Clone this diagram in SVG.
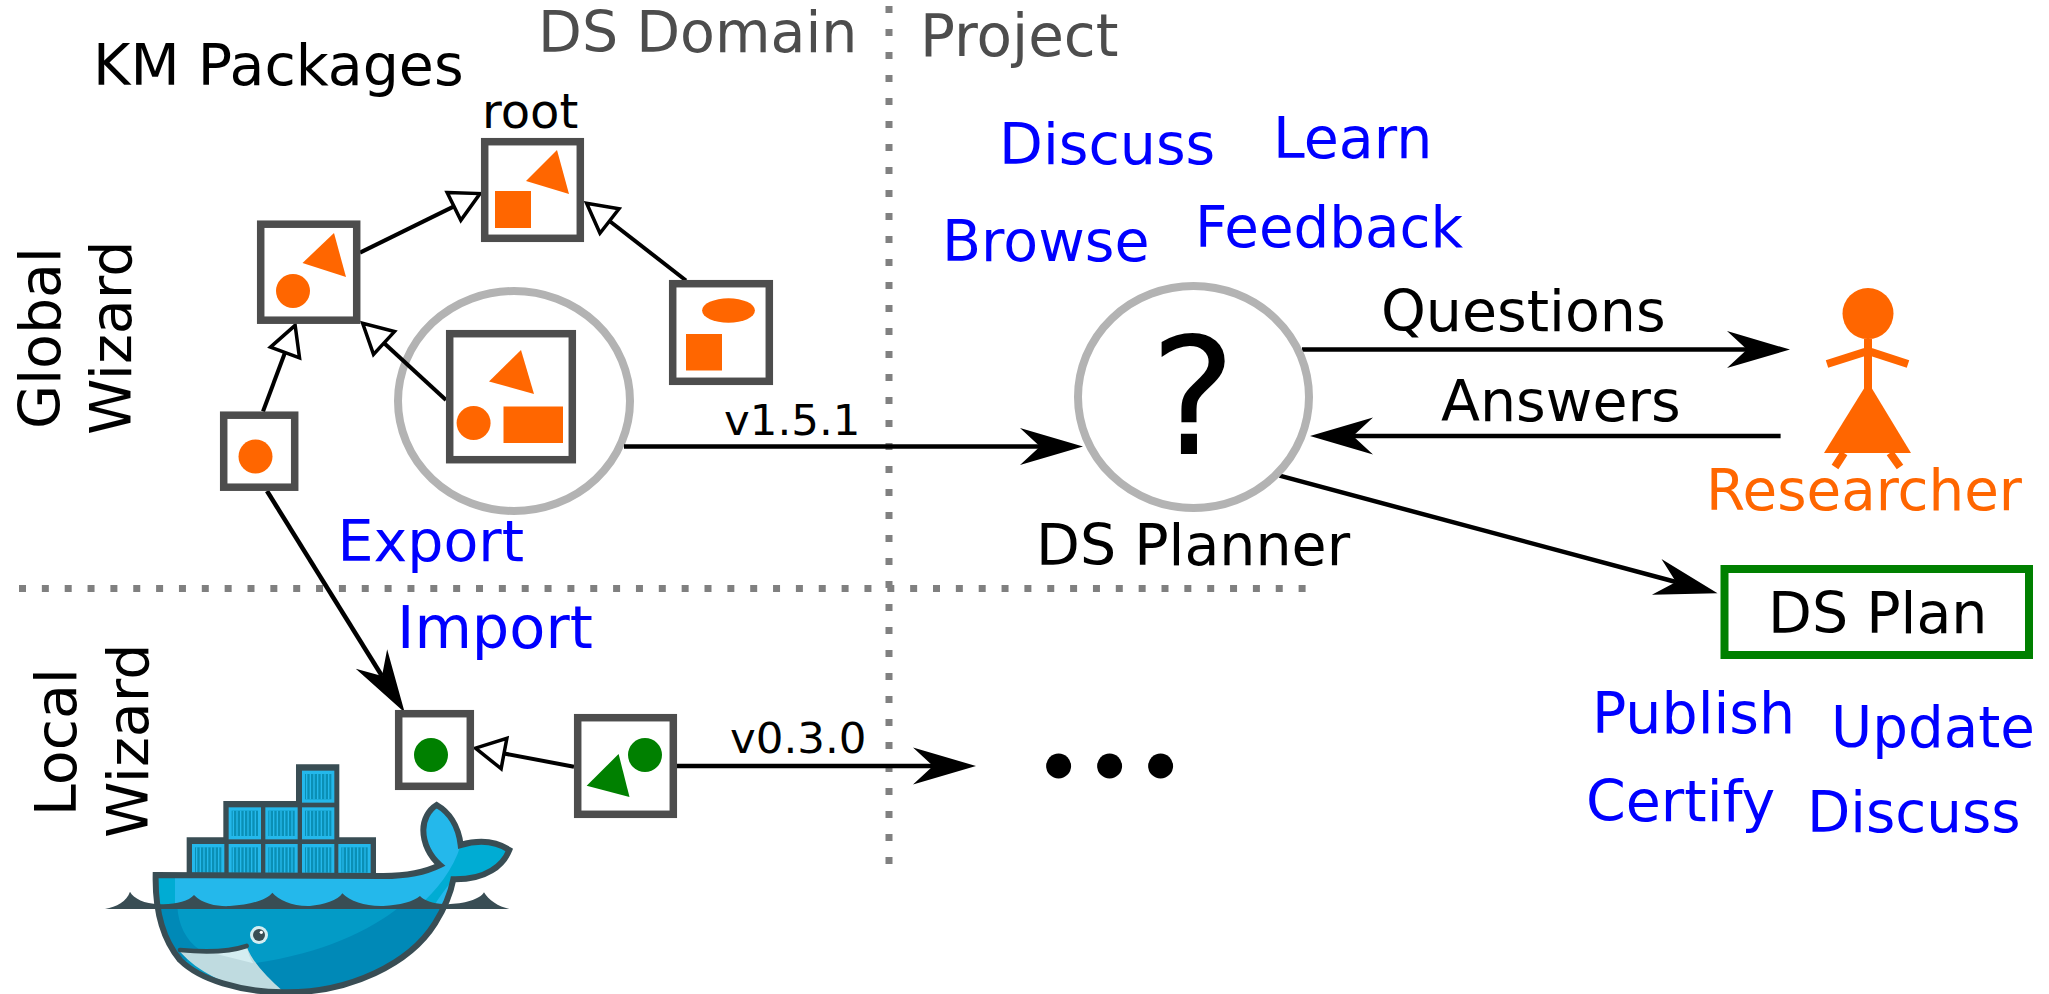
<svg xmlns="http://www.w3.org/2000/svg" xmlns:xlink="http://www.w3.org/1999/xlink" width="2049" height="994" viewBox="0 0 2049 994">
<style>
text{font-family:"DejaVu Sans","Liberation Sans",sans-serif;font-size:57px;fill:#000}
.blue{fill:#0000ff}.gray{fill:#4d4d4d}.org{fill:#ff6600}.grn{fill:#008000}
.ver{font-size:43.5px}
.sm{font-size:56.3px}
.box{fill:#fff;stroke:#4d4d4d;stroke-width:7.5}
.ring{fill:none;stroke:#b3b3b3;stroke-width:8}
.dot{fill:none;stroke:#808080;stroke-width:7;stroke-dasharray:7 16}
.a{fill:none;stroke:#000;stroke-width:4.5}
.i{fill:none;stroke:#000;stroke-width:4}
.wd{fill:#394d54}
</style>
<defs>
<marker id="barb" markerUnits="userSpaceOnUse" viewBox="-25 -25 75 50" markerWidth="75" markerHeight="50" refX="0" refY="0" orient="auto"><path d="M43 0L-20 -18.5L0 0L-20 18.5Z" fill="#000"/></marker>
<marker id="open" markerUnits="userSpaceOnUse" viewBox="-5 -20 40 40" markerWidth="40" markerHeight="40" refX="0" refY="0" orient="auto"><path d="M0 -15.5L29 0L0 15.5Z" fill="#fff" stroke="#000" stroke-width="3.5"/></marker>
<g id="cell"><rect width="97" height="96" fill="#24b8eb"/><rect x="9" y="10" width="79" height="76" fill="#0a8fb5"/><path d="M14 10V86M25 10V86M36 10V86M47 10V86M58 10V86M69 10V86M80 10V86" stroke="#24b8eb" stroke-width="4" fill="none"/></g>
<clipPath id="wc"><path id="wb" d="M197 375L880 378C950 378 1010 365 1050 345C1020 320 1000 280 1000 240C1000 210 1015 180 1040 165C1075 185 1105 225 1112 285C1170 268 1220 275 1258 300C1240 345 1190 390 1090 388C1080 440 1060 480 1035 520C960 640 780 730 580 727C450 725 330 690 270 630C220 570 195 480 197 375Z"/></clipPath>
</defs>

<g id="dividers">
<path class="dot" d="M889 6V866"/>
<path class="dot" style="stroke-dasharray:7 15.85" d="M19 588.5H1306"/>
</g>

<g id="whale" transform="translate(90 750) scale(.33333)">
<path class="wd" d="M290 380V262H400V153H618V43H748V262H858V380Z"/>
<use href="#cell" x="306" y="282"/><use href="#cell" x="416" y="282"/><use href="#cell" x="526" y="282"/><use href="#cell" x="636" y="282"/><use href="#cell" x="745" y="282"/>
<use href="#cell" x="416" y="172"/><use href="#cell" x="526" y="172"/><use href="#cell" x="636" y="172"/>
<use href="#cell" x="636" y="62"/>
<g clip-path="url(#wc)">
<rect x="190" y="150" width="1080" height="330" fill="#24b8eb"/>
<path d="M190 375H255V470H190Z" fill="#00acd3"/>
<path d="M1112 285C1170 268 1220 275 1258 300C1240 345 1190 390 1090 388C1070 410 1050 440 1030 470H985C1040 420 1090 360 1112 285Z" fill="#00acd3"/>
<rect x="190" y="470" width="900" height="270" fill="#039bc6"/>
<path d="M190 470H262C265 520 285 570 330 600L280 640L190 600Z" fill="#0089b7"/>
<path d="M1060 470H930C840 540 700 610 490 640L575 740H1000Z" fill="#0089b7"/>
<path d="M270 605C340 610 420 605 470 590C490 640 530 680 580 725H500C400 700 330 670 270 605Z" fill="#bfdbe0"/>
<path d="M370 610C410 607 440 600 470 590C475 610 480 625 490 640C450 630 410 620 370 610Z" fill="#d4edf1"/>
</g>
<path d="M45 477C80 470 110 455 120 425C130 445 165 462 205 462C250 465 295 455 312 435C340 465 390 470 420 468C480 465 530 450 547 428C565 450 610 470 660 468C700 465 745 450 757 430C780 455 830 470 880 468C930 465 970 455 990 438C1000 450 1030 462 1060 462C1110 465 1170 450 1182 427C1195 450 1225 470 1258 477Z" class="wd"/>
<use href="#wb" fill="none" stroke="#394d54" stroke-width="18"/>
<path d="M270 600C340 607 420 605 470 588" fill="none" stroke="#394d54" stroke-width="14" stroke-linecap="round"/>
<circle cx="507" cy="555" r="27" fill="#d4edf1"/><circle cx="507" cy="555" r="18" fill="#394d54"/><circle cx="514" cy="547" r="5" fill="#fff"/>
</g>

<g id="pkg-export-ring"><ellipse class="ring" cx="514" cy="401" rx="116" ry="110"/></g>

<g id="connectors">
<path class="i" marker-end="url(#open)" d="M360 252.6L454 206.4"/>
<path class="i" marker-end="url(#open)" d="M686 280.5L609.5 221"/>
<path class="i" marker-end="url(#open)" d="M446 400L384 343"/>
<path class="i" marker-end="url(#open)" d="M263 411.5L285 352.5"/>
<path class="i" marker-end="url(#open)" d="M574 766.7L504 753.5"/>
<path class="a" marker-end="url(#barb)" d="M267 491L382 676"/>
<path class="a" marker-end="url(#barb)" d="M624 446.5H1040"/>
<path class="a" marker-end="url(#barb)" d="M677 766H933"/>
<path class="a" marker-end="url(#barb)" d="M1302 349.6H1747"/>
<path class="a" marker-end="url(#barb)" d="M1780.6 436H1353"/>
<path class="a" marker-end="url(#barb)" d="M1279.6 475.7L1676 582"/>
</g>

<g id="pkg-root">
<rect class="box" x="484.7" y="141.7" width="95.6" height="96.6"/>
<rect class="org" x="495" y="191" width="36" height="37"/>
<path class="org" d="M557 150L569 194L526 181Z"/>
</g>
<g id="pkg-mid">
<rect class="box" x="260.7" y="224.2" width="96" height="96"/>
<path class="org" d="M334 233L346 277L302.5 263Z"/>
<circle class="org" cx="293" cy="291" r="17"/>
</g>
<g id="pkg-ellipse">
<rect class="box" x="672.7" y="283.7" width="96.6" height="97.6"/>
<ellipse class="org" cx="728.5" cy="310.5" rx="26.4" ry="12.2"/>
<rect class="org" x="686" y="334" width="36" height="36.5"/>
</g>
<g id="pkg-export">
<rect class="box" x="449.7" y="333.7" width="122.6" height="126"/>
<path class="org" d="M521 350L534 394L489 381.5Z"/>
<circle class="org" cx="473.6" cy="423" r="17"/>
<rect class="org" x="503.5" y="406.5" width="59.5" height="36.5"/>
</g>
<g id="pkg-small">
<rect class="box" x="223.7" y="415.2" width="71" height="72"/>
<circle class="org" cx="255.5" cy="456.5" r="17"/>
</g>
<g id="pkg-local-small">
<rect class="box" x="398.7" y="713.7" width="71.6" height="72.6"/>
<circle class="grn" cx="431" cy="755" r="17"/>
</g>
<g id="pkg-local">
<rect class="box" x="577.7" y="717.7" width="95.6" height="96.6"/>
<circle class="grn" cx="645" cy="755" r="17"/>
<path class="grn" d="M618.6 754L629.5 797L586.7 785.7Z"/>
</g>

<g id="planner">
<ellipse class="ring" cx="1193.5" cy="397" rx="115.5" ry="111"/>
<text x="1150" y="454" style="font-size:162px">?</text>
<text x="1036" y="565">DS Planner</text>
</g>
<g id="researcher">
<circle class="org" cx="1868" cy="313.6" r="25.5"/>
<path d="M1868 339V389M1827 364L1868 351L1908 364M1844 453L1835 467M1890 453L1900 467" fill="none" stroke="#ff6600" stroke-width="8"/>
<path class="org" d="M1868 382L1911 453H1824Z"/>
<text class="org sm" x="1706" y="510">Researcher</text>
</g>
<g id="ds-plan">
<rect x="1724.5" y="569" width="304.5" height="86" fill="#fff" stroke="#008000" stroke-width="8"/>
<text x="1768" y="633">DS Plan</text>
</g>
<g id="ellipsis">
<circle cx="1058.6" cy="766" r="12.5"/><circle cx="1109.6" cy="766" r="12.5"/><circle cx="1160.6" cy="766" r="12.5"/>
</g>

<g id="labels">
<text x="93" y="85">KM Packages</text>
<text class="gray" x="538" y="52">DS Domain</text>
<text class="gray" x="920" y="56" style="font-size:58px">Project</text>
<text x="482" y="128" style="font-size:48px">root</text>
<text class="blue" x="999" y="164">Discuss</text>
<text class="blue" x="1273" y="158">Learn</text>
<text class="blue" x="942" y="261">Browse</text>
<text class="blue sm" x="1195" y="247">Feedback</text>
<text x="1381" y="331">Questions</text>
<text x="1441" y="421">Answers</text>
<text class="blue" x="337.5" y="561">Export</text>
<text class="blue" x="397" y="648" style="font-size:59px">Import</text>
<text class="blue" x="1592" y="733">Publish</text>
<text class="blue sm" x="1831" y="747">Update</text>
<text class="blue" x="1586" y="821">Certify</text>
<text class="blue sm" x="1807" y="832">Discuss</text>
<text class="ver" x="724" y="435">v1.5.1</text>
<text class="ver" x="730" y="753">v0.3.0</text>
<text transform="translate(60 429) rotate(-90)">Global</text>
<text transform="translate(131 435) rotate(-90)">Wizard</text>
<text transform="translate(75.5 816) rotate(-90)">Local</text>
<text transform="translate(148 838) rotate(-90)">Wizard</text>
</g>
</svg>
